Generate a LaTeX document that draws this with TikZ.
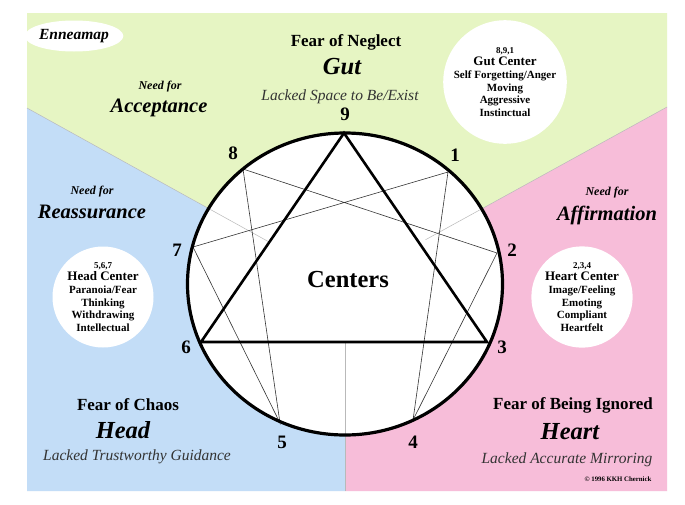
\documentclass[tikz,border=0pt]{standalone}
\usepackage{fontspec}
\setmainfont{Liberation Serif}
\usepackage{xcolor}
\usetikzlibrary{calc,positioning,shapes.geometric}

\definecolor{gutgreen}{HTML}{E6F5C3}
\definecolor{headblue}{HTML}{C3DDF7}
\definecolor{heartpink}{HTML}{F7BDD9}

\tikzset{
  fearlbl/.style={inner sep=0pt,font=\bfseries\fontsize{17}{20}\selectfont},
  centerlbl/.style={inner sep=0pt,font=\bfseries\itshape\fontsize{24.5}{28}\selectfont},
  lackedlbl/.style={inner sep=0pt,text=black!80,font=\itshape\fontsize{15.5}{18}\selectfont},
  needlbl/.style={inner sep=0pt,font=\bfseries\itshape\fontsize{12}{14}\selectfont},
  needword/.style={inner sep=0pt,font=\bfseries\itshape\fontsize{20.5}{24}\selectfont},
  numlbl/.style={inner sep=0pt,font=\bfseries\fontsize{19}{22}\selectfont},
  centerdisc/.style={circle,fill=white,minimum size=101pt,inner sep=0pt,align=center,
    font=\bfseries\fontsize{11}{12.7}\selectfont},
  seam/.style={gray!55,line width=0.5pt},
  hexad/.style={black!80,line width=0.6pt},
  triad/.style={line width=2.6pt,line join=miter},
}
\newcommand{\smallnums}[1]{{\fontsize{9}{12.7}\selectfont #1}}
\newcommand{\discttl}[1]{{\fontsize{13}{12.7}\selectfont #1}}

\begin{document}
\begin{tikzpicture}[x=1pt,y=-1pt]
  \useasboundingbox (0,0) rectangle (685,504);
  \fill[white] (0,0) rectangle (685,504);
  % three regions meeting at the middle of the circle
  \coordinate (o) at (345,284);
  \coordinate (L) at (27,108);
  \coordinate (R) at (667,107);
  \coordinate (B) at (345,491);
  \fill[gutgreen] (27,13) -- (667,13) -- (R) -- (o) -- (L) -- cycle;
  \fill[headblue] (L) -- (o) -- (B) -- (27,491) -- cycle;
  \fill[heartpink] (R) -- (o) -- (B) -- (667,491) -- cycle;
  \fill[white] (o) ellipse [x radius=157.5, y radius=151];
  \foreach \e/\f in {L/0.76,R/0.75,B/0.72} \draw[seam] (\e) -- ($(\e)!\f!(o)$);

  % points of the enneagram
  \foreach \n/\x/\y in {9/344/133,1/448/172,2/497/253,3/487/342,4/413/420,
      5/280/423,6/201/342,7/193/247,8/243/169}
    \coordinate (p\n) at (\x,\y);
  \draw[hexad] (p1) -- (p4) -- (p2) -- (p8) -- (p5) -- (p7) -- cycle;
  \draw[triad] (p9) -- (p3) -- (p6) -- cycle;
  \draw[line width=3.2pt] (o) ellipse [x radius=157.5, y radius=151];
  \foreach \n/\x/\y in {9/345/114,1/455/155,2/512/250,3/502/347,4/413/442,
      5/282/442,6/186/347,7/177/250,8/233/153}
    \node[numlbl] (n\n) at (\x,\y) {\n};
  \node[inner sep=0pt,font=\bfseries\fontsize{24.5}{28}\selectfont] (centers) at (348,280) {Centers};

  % gut
  \node[ellipse,fill=white,minimum width=82pt,minimum height=31pt,inner sep=0pt,
    font=\bfseries\itshape\fontsize{15.5}{18}\selectfont] (emap) at (74,36) {Enneamap};
  \node[fearlbl] (gutfear) at (346,42) {Fear of Neglect};
  \node[centerlbl] (gut) at (342,67) {Gut};
  \node[lackedlbl] (gutlack) at (340,97) {Lacked Space to Be/Exist};
  \node[centerdisc] (gutdisc) at (505,82)
    {\smallnums{8,9,1}\\ \discttl{Gut Center}\\ Self Forgetting/Anger\\ Moving\\ Aggressive\\ Instinctual};
  \node[needlbl] (accneed) at (160,87) {Need for};
  \node[needword] (acc) at (159,108) {Acceptance};

  % head
  \node[needlbl] (reneed) at (92,192) {Need for};
  \node[needword] (re) at (92,212) {Reassurance};
  \node[centerdisc] (headdisc) at (103,297)
    {\smallnums{5,6,7}\\ \discttl{Head Center}\\ Paranoia/Fear\\ Thinking\\ Withdrawing\\ Intellectual};
  \node[fearlbl] (headfear) at (128,405) {Fear of Chaos};
  \node[centerlbl] (head) at (123,430) {Head};
  \node[lackedlbl] (headlack) at (137,457) {Lacked Trustworthy Guidance};

  % heart
  \node[needlbl] (affneed) at (607,193) {Need for};
  \node[needword] (aff) at (607,215) {Affirmation};
  \node[centerdisc] (heartdisc) at (582,297)
    {\smallnums{2,3,4}\\ \discttl{Heart Center}\\ Image/Feeling\\ Emoting\\ Compliant\\ Heartfelt};
  \node[fearlbl] (heartfear) at (573,405) {Fear of Being Ignored};
  \node[centerlbl] (heart) at (570,432) {Heart};
  \node[lackedlbl] (heartlack) at (567,460) {Lacked Accurate Mirroring};
  \node[inner sep=0pt,font=\bfseries\fontsize{6.8}{8}\selectfont] (copy) at (618,479) {© 1996 KKH Chernick};
\end{tikzpicture}
\end{document}
